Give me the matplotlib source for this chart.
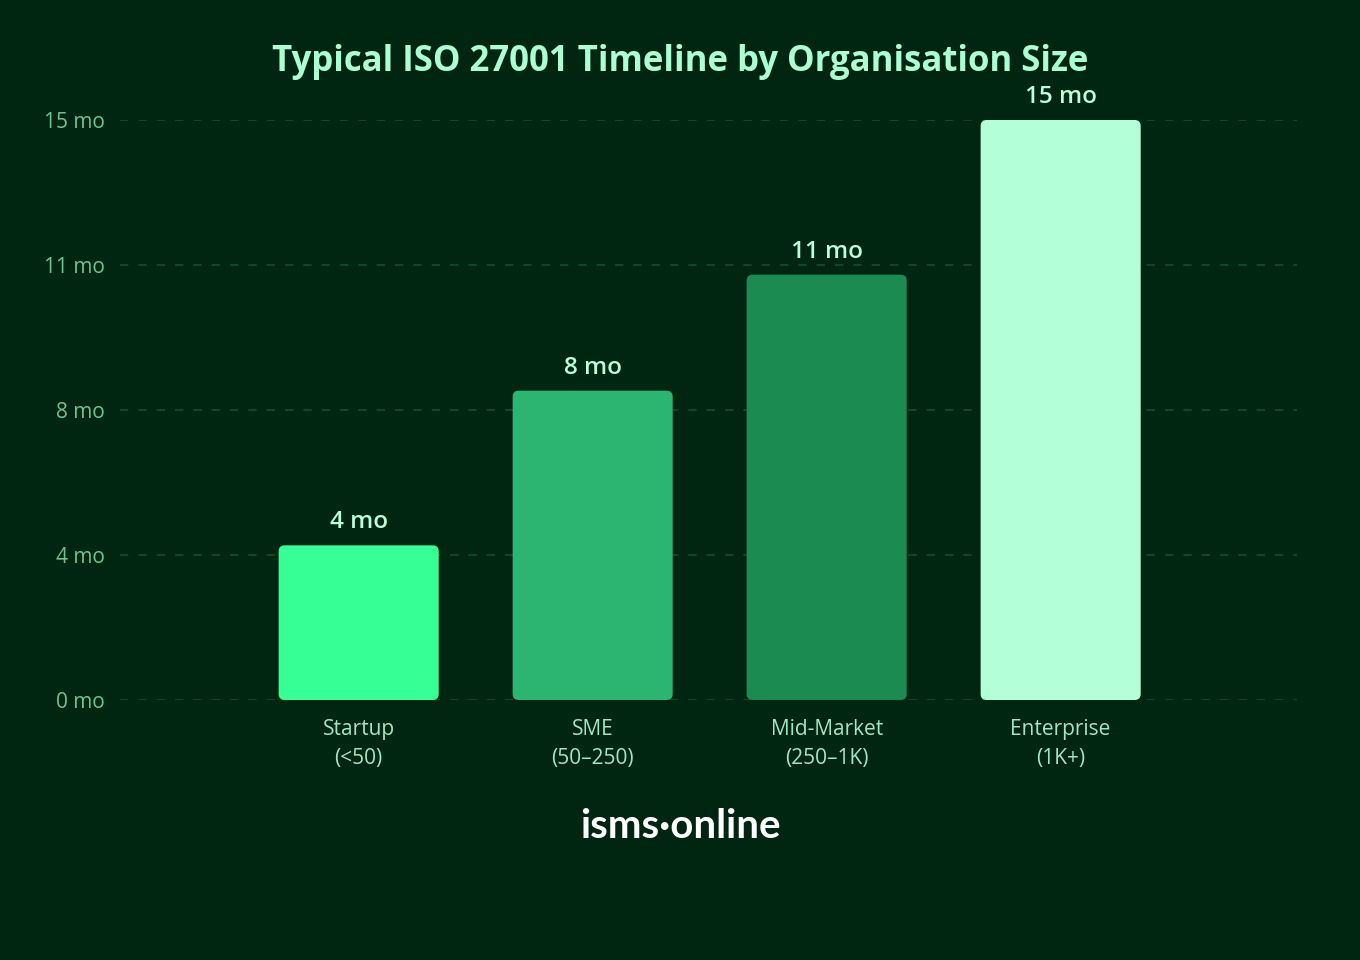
import matplotlib
matplotlib.use("Agg")
import matplotlib.pyplot as plt
from matplotlib.patches import FancyBboxPatch

# data
categories = ["Startup\n(<50)", "SME\n(50\u2013250)", "Mid-Market\n(250\u20131K)", "Enterprise\n(1K+)"]
months = [4, 8, 11, 15]
value_labels = ["4 mo", "8 mo", "11 mo", "15 mo"]
y_ticks = [0, 3.75, 7.5, 11.25, 15]
y_tick_labels = ["0 mo", "4 mo", "8 mo", "11 mo", "15 mo"]
bar_colors = ["#36FF96", "#2BB570", "#1C8B52", "#B2FFD8"]

bg = "#002612"
plt.rcParams["font.family"] = ["Open Sans", "DejaVu Sans"]

fig = plt.figure(figsize=(13.6, 9.6), dpi=100, facecolor=bg)
ax = fig.add_axes([120 / 1360, 1 - 700 / 960, (1297 - 120) / 1360, 580 / 960])
ax.set_facecolor(bg)

x = list(range(len(categories)))
bars = ax.bar(x, months, width=0.684, color=bar_colors, zorder=2)
ax.set_xlim(-1.02, 4.01)
ax.set_ylim(0, 15)

# swap plain bars for rounded ones (same geometry)
px_x = 1 / 234.0
px_y = 1 / 38.67
for b in bars:
    b.set_visible(False)
    r = 6 * px_x
    patch = FancyBboxPatch((b.get_x(), b.get_y()), b.get_width(), b.get_height(),
                           boxstyle=f"round,pad=0,rounding_size={r}",
                           mutation_aspect=px_y / px_x,
                           facecolor=b.get_facecolor(), edgecolor="none", zorder=2)
    ax.add_patch(patch)

for xi, v, lab in zip(x, months, value_labels):
    ax.annotate(lab, (xi, v), xytext=(0, 8), textcoords="offset points",
                ha="center", va="bottom", fontsize=17.5, fontweight="semibold",
                color="#B8FFDA", clip_on=False)

ax.set_yticks(y_ticks)
ax.set_yticklabels(y_tick_labels)
ax.set_xticks(x)
ax.set_xticklabels(categories, linespacing=1.45)
ax.tick_params(axis="y", length=0, pad=11, labelsize=15, labelcolor="#6FC393")
ax.tick_params(axis="x", length=0, pad=14, labelsize=15, labelcolor="#A3E6C2")
ax.grid(axis="y", color="#11502C", linestyle=(0, (5, 6)), linewidth=1.2, zorder=0)
for s in ax.spines.values():
    s.set_visible(False)

fig.text(0.5, 1 - 62 / 960, "Typical ISO 27001 Timeline by Organisation Size",
         ha="center", va="center", fontsize=25, fontweight="bold", color="#ABFFD3")
fig.text(0.5, 1 - 826 / 960, "isms\u00b7online", ha="center", va="center",
         fontsize=29, fontweight="bold", color="white", family=["Lato", "DejaVu Sans"])

fig.savefig("out.png", dpi=100, facecolor=bg)
